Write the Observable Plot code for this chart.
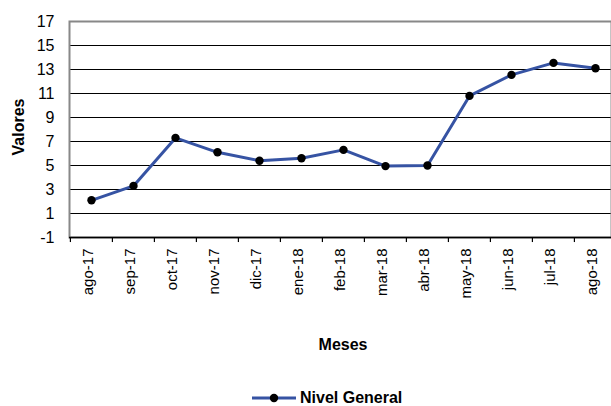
<!DOCTYPE html>
<html>
<head>
<meta charset="utf-8">
<script src="https://cdn.jsdelivr.net/npm/d3@7"></script>
<script src="https://cdn.jsdelivr.net/npm/@observablehq/plot@0.6"></script>
<style>
  html, body { margin: 0; padding: 0; background: #fff; overflow: hidden; }
  #wrap { width: 611px; height: 406px; position: relative; font-family: "Liberation Sans", Arial, sans-serif; }
  #legend { position: absolute; left: 252px; top: 389px; height: 17px; display: flex; align-items: center; font-weight: bold; font-size: 16px; line-height: 17px; color: #000; }
  #legend svg { display: block; margin-right: 4px; }
</style>
</head>
<body>
<div id="wrap">
  <div id="chart"></div>
  <div id="legend"></div>
</div>
<script>
const months = ["ago-17","sep-17","oct-17","nov-17","dic-17","ene-18","feb-18","mar-18","abr-18","may-18","jun-18","jul-18","ago-18"];
const values = [2.1, 3.3, 7.3, 6.1, 5.4, 5.6, 6.3, 4.95, 5.0, 10.8, 12.55, 13.55, 13.1];
const yTicks = [-1, 1, 3, 5, 7, 9, 11, 13, 15, 17];
const gridValues = [1, 3, 5, 7, 9, 11, 13, 15];
const seriesName = "Nivel General";
const xTitle = "Meses";
const yTitle = "Valores";

const data = months.map((m, i) => ({month: m, value: values[i]}));
const lineColor = "#3653a3";
const xRange = [69, 617.5];
const step = (xRange[1] - xRange[0]) / months.length;

const plot = Plot.plot({
  width: 611,
  height: 385,
  marginLeft: 69,
  marginTop: 21,
  marginBottom: 148,
  marginRight: 0,
  style: {fontFamily: "Liberation Sans, Arial, sans-serif", fontSize: "14px", color: "#000", background: "#fff"},
  x: {type: "point", domain: months, range: xRange, padding: 0.5},
  y: {domain: [-1, 17], range: [237, 21]},
  marks: [
    Plot.ruleY(gridValues, {stroke: "#000", strokeWidth: 1}),
    Plot.frame({stroke: "#888", strokeWidth: 2}),
    Plot.ruleY([-1], {stroke: "#000", strokeWidth: 1.5}),
    Plot.ruleX(months, {x: d => d, y1: -1, y2: -1.42, dx: -step / 2, stroke: "#000", strokeWidth: 1.2}),
    Plot.line(data, {x: "month", y: "value", stroke: lineColor, strokeWidth: 3}),
    Plot.dot(data, {x: "month", y: "value", r: 4.2, fill: "#000", stroke: "none"}),
    Plot.axisY({ticks: yTicks, tickFormat: d => String(d), tickSize: 0, tickPadding: 15, fontSize: 16, label: null}),
    Plot.axisX({tickRotate: -90, tickSize: 0, tickPadding: 11, fontSize: 15, dx: -3, label: null}),
    Plot.text([yTitle], {frameAnchor: "left", text: d => d, rotate: -90, dx: -50.5, dy: -2.5, textAnchor: "middle", lineAnchor: "middle", fontWeight: "bold", fontSize: 16}),
    Plot.text([xTitle], {frameAnchor: "bottom", text: d => d, dx: 2.5, dy: 107, textAnchor: "middle", lineAnchor: "middle", fontWeight: "bold", fontSize: 16})
  ]
});
document.getElementById("chart").appendChild(plot);

const legend = document.getElementById("legend");
legend.innerHTML = `<svg width="44" height="12"><line x1="0" y1="6" x2="44" y2="6" stroke="${lineColor}" stroke-width="3"/><circle cx="22" cy="6" r="4.2" fill="#000"/></svg><span>${seriesName}</span>`;
</script>
</body>
</html>
